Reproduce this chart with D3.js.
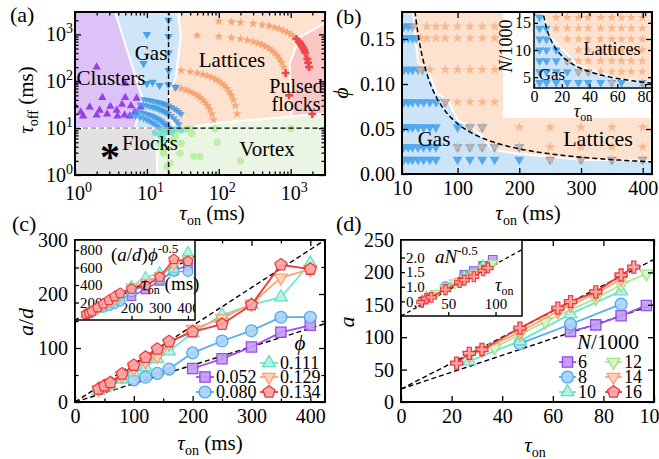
<!DOCTYPE html>
<html><head><meta charset="utf-8">
<script src="https://cdn.jsdelivr.net/npm/d3@7"></script>
<style>body{margin:0;background:#fff}svg{display:block}</style>
</head><body><svg id="c" width="659" height="459"></svg>
<script>
// ================= DATA =================
// ---- Panel (a): phase diagram, points are [tau_on, tau_off] in ms
const aClusters = [[1,95],[2,200],[1.2,22],[1.6,28],[2.2,24],[2,19],[2.4,45],[3.1,29],[3.8,24],[3.9,18],[4.9,19],[5,45],[5,90],[6.8,22],[7.2,43],[8.2,28],[1.3,18],[2.8,20],[6,30],[4.5,32],[5.8,18],[1,30]];
const aGas = [[10,1000],[20,2000],[20,900],[20,400],[9,240],[20,170],[12,96],[15,82],[20,85],[25,75],[10,90]];
const aGasArcs = [
  [[9,41],[10,40],[11,39],[12,38],[13,37],[14,36],[15,35],[16,34],[17,33],[18,32],[19,31],[20,30],[22,28],[24,26],[26,24],[28,22],[30,20]],
  [[8,32],[9,31],[10,30],[11,29],[12,28],[13,27],[14,26],[15,25],[16,24],[17,23],[18,22],[19,21],[20,20],[22,18],[24,16],[26,14],[28,12]],
  [[7,23],[8,22],[9,21],[10,20],[11,19],[12,18],[13,17],[14,16],[15,15],[16,14],[17,13],[18,12],[19,11],[20,10]],
  [[6,19],[7,18],[8,17],[9,16],[10,15],[11,14],[12,13],[13,12],[14,11],[15,10]]
];
const aFlockPts = [[13,8],[15,7],[17,6],[20,9],[22,8],[25,9.5],[30,9],[16,9],[18,8]];
const aVortex = [[15,4.7],[17,2.9],[21,1.8],[23,5.5],[29,2.9],[30,4.7],[42,7.7],[45,2.5],[55,2.45],[88,9.8],[95,5],[93,1],[200,2],[1000,9.8],[19,1.5],[25,7],[35,9.5],[40,9.8],[17,3.5]];
const aLatticeArcs = [
  [[100,1900],[150,1850],[200,1800],[300,1700],[400,1600],[500,1500],[600,1400],[700,1300],[800,1200],[900,1100],[1000,1000],[1100,900]],
  [[50,950],[100,900],[150,850],[200,800],[250,750],[300,700],[350,650],[400,600],[450,550],[500,500],[550,450],[600,400],[650,350],[700,300],[750,250],[800,200]],
  [[30,170],[40,160],[50,150],[60,140],[70,130],[80,120],[90,110],[100,100],[110,90],[120,80],[130,70],[140,60],[150,50],[160,40],[170,30],[180,20]],
  [[25,75],[30,70],[35,65],[40,60],[45,55],[50,50],[55,45],[60,40],[65,35],[70,30],[75,25],[80,20],[85,15]]
];
const aPulsed = [[1200,800],[1300,700],[1350,650],[1400,600],[1450,550],[1500,500],[1550,450],[1600,400],[1700,300],[1750,250],[1800,200],[850,150],[950,50],[2000,20]];
const regClusters = [[1,3000],[3.6,3000],[8.5,46],[6.8,10],[1,10]];
const regGas = [[3.6,3000],[27,3000],[29.6,954],[25,116],[20.9,64],[19,24],[24.5,10],[6.8,10],[8.5,46]];
const regLattices = [[27,3000],[3000,3000],[3000,1720],[1334,863],[970,240],[1030,18],[970,17.4],[83,12.6],[35.6,10],[24.5,10],[19,24],[20.9,64],[25,116],[29.6,954]];
const regPulsed = [[3000,1720],[1334,863],[970,240],[1030,18],[3000,20.6]];
const regVortex = [[3000,1],[3000,20.6],[970,17.4],[83,12.6],[35.6,10],[14,10],[13.5,5],[14,1]];
const regFlocks = [[1,1],[1,10],[14,10],[13.5,5],[14,1]];
const aTicks = [1,10,100,1000];
const aMinor = [2,3,4,5,6,7,8,9,20,30,40,50,60,70,80,90,200,300,400,500,600,700,800,900,2000,3000];

// ---- Panel (b): [tau_on, phi]
const bPhiRows = [0.164,0.151,0.116,0.080,0.052,0.030,0.016];
const bGasTau = [[13,20,27],[13,20,27,33],[13,20,27,36,43],[13,20,27,36,45,55,65,80],[13,20,27,36,45,55,65,100,120,140],[13,20,27,36,45,55,65,100,120,140,160,200],[13,20,27,36,45,55,65,100,120,140,160,200,250,300,350,400]];
const bStarTau = [[30,50,65,80,100,120,140,160],[40,50,65,80,100,120,140,160],[40,55,80,100,120,140,160],[80,100,120,140,160],[120,140,200,250,300,350,400],[100,120,140,160,200,250,300,350,400],[250,300,350,400]];
const regBGas = [[10,0.18],[28,0.18],[30,0.16],[36,0.123],[50,0.118],[66,0.09],[84,0.082],[100,0.060],[125,0.05],[140,0.0415],[156,0.0267],[203,0.022],[299,0.0156],[415,0.0148],[415,0],[10,0]];
const regBLat = [[28,0.18],[415,0.18],[415,0.0148],[299,0.0156],[203,0.022],[156,0.0267],[140,0.0415],[125,0.05],[100,0.060],[84,0.082],[66,0.09],[50,0.118],[36,0.123],[30,0.16]];
const bBoundaryCoef = 5.6;
const bXTicks = [10,100,200,300,400];
const bYTicks = [0,0.05,0.10,0.15];
const biRows = [16,14,12,10,8,6,4];
const biGasTau = [[4],[4,9],[4,9],[4,9,16],[4,9,16,24],[4,9,16,24,32,39],[4,9,16,24,32,39,48,56,63,78]];
const biStarTau = [[16,24,32,39,48,56,63,70,78],[16,24,32,39,48,56,63,70,78],[24,32,39,48,56,63,70,78],[32,39,48,56,63,70,78],[24,32,39,48,56,63,70,78],[32,39,48,56,63,70,78],[56,78]];
const regBiGas = [[0,17],[6.5,17],[11.5,12.4],[20.9,10],[31,7.25],[45.4,6],[62,4.5],[85,4.1],[85,3],[0,3]];
const regBiLat = [[6.5,17],[85,17],[85,4.1],[62,4.5],[45.4,6],[31,7.25],[20.9,10],[11.5,12.4]];
const biCurve = {A:49.7, b:0.573};

// ---- Panel (c)
const cPhi = ["0.052","0.080","0.111","0.129","0.134"];
const cPhiVal = [0.052,0.080,0.111,0.129,0.134];
const cTau = [
  [200,250,300,350,400],
  [100,120,140,160,200,250,300,350,400],
  [40,50,60,80,100,120,140,160,200,250,300,350,400],
  [40,50,60,80,100,120,140,160,200,250,300,350,400],
  [40,50,60,80,100,120,140,160,200,250,300,350,400]];
const cVal = [
  [62,80,102,129,142],
  [41,46,53,61,91,113,132,157,157],
  [21,26,31,42,55,65,80,94,128,161,180,194,257],
  [23,30,35,48,62,75,85,108,135,155,182,230,246],
  [24,30,36,52,68,83,98,112,130,144,180,254,246]];
const cGuides = [[[0,0],[425,300]],[[0,0],[425,145]]];
const ciGuide = [[0,0],[425,730]];

// ---- Panel (d)
const dN = ["6","8","10","12","14","16"];
const dNVal = [6,8,10,12,14,16];
const dTau = [
  [67,77,87,97],
  [47,67,87],
  [27,47,67,87],
  [37,47,57,77,87,97],
  [27,32,47,62,67,77,87],
  [22,27,32,47,62,67,77,87,92]];
const dVal = [
  [109,119,133,149],
  [90,120,151],
  [63,94,136,171],
  [84,104,124,160,181,198],
  [72,80,108,140,150,167,190],
  [60,75,81,114,145,155,170,196,208]];
const dGuides = [[[0,20],[100,220]],[[0,20],[100,150]]];
const diGuide = [[0,0],[128,2.27]];

// ================= DRAWING =================
const FONT = 'Liberation Serif, Liberation Sans, Arial, sans-serif';
const svg = d3.select("#c");
svg.append("rect").attr("width",659).attr("height",459).attr("fill","#fff");

const pentagon = {draw(ctx,size){const r=Math.sqrt(size/2.378);for(let i=0;i<5;i++){const a=-Math.PI/2+i*2*Math.PI/5;const x=r*Math.cos(a),y=r*Math.sin(a);i?ctx.lineTo(x,y):ctx.moveTo(x,y);}ctx.closePath();}};
const triDown = {draw(ctx,size){const s=Math.sqrt(size/0.433),h=s*0.866;ctx.moveTo(-s/2,-h/3);ctx.lineTo(s/2,-h/3);ctx.lineTo(0,2*h/3);ctx.closePath();}};
const triUp = {draw(ctx,size){const s=Math.sqrt(size/0.433),h=s*0.866;ctx.moveTo(-s/2,h/3);ctx.lineTo(s/2,h/3);ctx.lineTo(0,-2*h/3);ctx.closePath();}};

function txt(g,x,y,s,o={}){
  const t=g.append("text").attr("x",x).attr("y",y).attr("font-family",FONT).attr("font-size",o.fs||20).attr("fill","#000").attr("text-anchor",o.anchor||"start");
  if(o.rot) t.attr("transform",`rotate(${o.rot},${x},${y})`);
  if(o.italic) t.attr("font-style","italic");
  if(s!==null) t.text(s);
  return t;
}
function tsp(t,s,o={}){const p=t.append("tspan").text(s);if(o.fs)p.attr("font-size",o.fs);if(o.dy!==undefined)p.attr("dy",o.dy);if(o.italic)p.attr("font-style","italic");if(o.dx!==undefined)p.attr("dx",o.dx);return p;}

function axis(g,gen,scale,vals,len,tr,fmt,fs,pad){
  const a=gen(scale).tickValues(vals).tickSize(len).tickSizeOuter(0).tickPadding(pad||6).tickFormat(fmt||(()=>""));
  const s=g.append("g").attr("transform",tr).call(a);
  s.attr("font-family",FONT).attr("font-size",fs||20);
  s.select(".domain").remove();
  s.selectAll("line").attr("stroke","#000").attr("stroke-width",1.3);
  s.selectAll("text").attr("font-family",FONT).attr("font-size",fs||20).attr("fill","#000");
  return s;
}
function frame(g,xs,ys,sw){
  const [x0,x1]=xs.range(),[y0,y1]=ys.range();
  g.append("rect").attr("x",x0).attr("y",y1).attr("width",x1-x0).attr("height",y0-y1).attr("fill","none").attr("stroke","#000").attr("stroke-width",sw||2);
}
function mainAxes(g,xs,ys,o){
  const [x0,x1]=xs.range(),[y0,y1]=ys.range();
  const T=6,M=3.5;
  axis(g,d3.axisBottom,xs,o.xt,-T,`translate(0,${y0})`,o.xf,20,o.xpad||7);
  axis(g,d3.axisTop,xs,o.xt,-T,`translate(0,${y1})`);
  if(o.xm){axis(g,d3.axisBottom,xs,o.xm,-M,`translate(0,${y0})`);axis(g,d3.axisTop,xs,o.xm,-M,`translate(0,${y1})`);}
  axis(g,d3.axisLeft,ys,o.yt,-T,`translate(${x0},0)`,o.yf,20,o.ypad||7);
  axis(g,d3.axisRight,ys,o.yt,-T,`translate(${x1},0)`);
  if(o.ym){axis(g,d3.axisLeft,ys,o.ym,-M,`translate(${x0},0)`);axis(g,d3.axisRight,ys,o.ym,-M,`translate(${x1},0)`);}
  frame(g,xs,ys,2);
}
function poly(g,pts,xs,ys,fill,stroke){
  g.append("path").attr("d",d3.line().x(d=>xs(d[0])).y(d=>ys(d[1]))(pts)+"Z").attr("fill",fill).attr("stroke",stroke||"none").attr("stroke-width",1.8).attr("stroke-linejoin","round");
}
function marks(g,pts,xs,ys,type,size,fill,stroke,sw,op){
  g.selectAll(null).data(pts).enter().append("path")
   .attr("d",d3.symbol().type(type).size(size)())
   .attr("transform",d=>`translate(${xs(d[0])},${ys(d[1])})`)
   .attr("fill",fill).attr("stroke",stroke||"none").attr("stroke-width",sw||0).attr("opacity",op===undefined?1:op);
}
function dashed(g,pts,xs,ys,color,sw,da){
  g.append("path").attr("d",d3.line().x(d=>xs(d[0])).y(d=>ys(d[1]))(pts)).attr("fill","none").attr("stroke",color||"#000").attr("stroke-width",sw||1.5).attr("stroke-dasharray",da||"5,3");
}

const SER = [
  {line:"#9b4ff0",fill:"#c39df5",stroke:"#8c3ee6",type:d3.symbolSquare,size:105},
  {line:"#58acf0",fill:"#a9d3f7",stroke:"#4aa2ec",type:d3.symbolCircle,size:110},
  {line:"#6ee6cf",fill:"#b8f2e6",stroke:"#5adcc4",type:triUp,size:70},
  {line:"#ffa474",fill:"#ffd2b8",stroke:"#ff9a66",type:triDown,size:70},
  {line:"#f0383c",fill:"#f8a6a6",stroke:"#ec2a2e",type:pentagon,size:95}
];

// ---------- Panel (a) ----------
{
  const g=svg.append("g");
  const xs=d3.scaleLog().domain([1,3000]).range([75,325]);
  const ys=d3.scaleLog().domain([1,3000]).range([175,12]);
  g.append("clipPath").attr("id","clipA").append("rect").attr("x",75).attr("y",12).attr("width",250).attr("height",163);
  const pg=g.append("g").attr("clip-path","url(#clipA)");
  poly(pg,regLattices,xs,ys,"#fde2d0","#fff");
  poly(pg,regPulsed,xs,ys,"#fbc6c6","#fff");
  poly(pg,regVortex,xs,ys,"#eaf6e3","#fff");
  poly(pg,regFlocks,xs,ys,"#e2e2e2","#fff");
  poly(pg,regGas,xs,ys,"#cfe5f8","#fff");
  poly(pg,regClusters,xs,ys,"#dcc2f6","#fff");
  marks(pg,aVortex,xs,ys,d3.symbolCircle,42,"#b6ec9c","none",0,0.85);
  aLatticeArcs.forEach(a=>marks(pg,a,xs,ys,d3.symbolStar,26,"#f6a06c","none",0,0.9));
  marks(pg,aPulsed,xs,ys,d3.symbolCross,34,"#f0474a","none",0,1);
  marks(pg,aClusters,xs,ys,triUp,30,"#9a3ee8","none",0,1);
  marks(pg,aGas,xs,ys,triDown,30,"#45a2ee","none",0,1);
  aGasArcs.forEach(a=>marks(pg,a,xs,ys,triDown,22,"#3f99e6","none",0,0.8));
  marks(pg,aFlockPts,xs,ys,d3.symbolCircle,30,"#62dcc8","none",0,0.8);
  dashed(g,[[20,1],[20,3000]],xs,ys,"#000",1.4,"5,3");
  dashed(g,[[1,10],[20,10]],xs,ys,"#aaa",1.6,"5,3");
  dashed(g,[[20,10],[3000,10]],xs,ys,"#000",1.4,"5,3");
  mainAxes(g,xs,ys,{xt:aTicks,xm:aMinor,yt:aTicks,ym:aMinor.filter(v=>v<3000)});
  aTicks.forEach((v,i)=>{const t=txt(g,xs(v)-10,200,null,{fs:20});tsp(t,"10");tsp(t,String(i),{fs:14,dy:-8});});
  aTicks.forEach((v,i)=>{const t=txt(g,73,ys(v)+7,null,{fs:20,anchor:"end"});tsp(t,"10");tsp(t,String(i),{fs:14,dy:-8});});
  txt(g,111,85,"Clusters",{fs:21,anchor:"middle"});
  txt(g,151,60,"Gas",{fs:21,anchor:"middle"});
  txt(g,232,67,"Lattices",{fs:21,anchor:"middle"});
  txt(g,296,93,"Pulsed",{fs:20,anchor:"middle"});
  txt(g,296,111,"flocks",{fs:20,anchor:"middle"});
  txt(g,150,150,"Flocks",{fs:21,anchor:"middle"});
  txt(g,267,156,"Vortex",{fs:21,anchor:"middle"});
  txt(g,110,170,"*",{fs:40,anchor:"middle"}).attr("font-weight","bold");
  let t=txt(g,212,220,null,{fs:21,anchor:"middle"});tsp(t,"τ",{italic:true});tsp(t,"on",{fs:14,dy:5});tsp(t," (ms)",{dy:-5});
  t=txt(g,33,100,null,{fs:21,anchor:"middle",rot:-90});tsp(t,"τ",{italic:true});tsp(t,"off",{fs:14,dy:5});tsp(t," (ms)",{dy:-5});
  txt(g,10,22,"(a)",{fs:22});
}

// ---------- Panel (b) ----------
{
  const g=svg.append("g");
  const xs=d3.scaleLinear().domain([10,415]).range([402,652]);
  const ys=d3.scaleLinear().domain([0,0.18]).range([174,12]);
  g.append("clipPath").attr("id","clipB").append("rect").attr("x",402).attr("y",12).attr("width",250).attr("height",162);
  const pg=g.append("g").attr("clip-path","url(#clipB)");
  poly(pg,regBLat,xs,ys,"#fde2d0","#fff");
  poly(pg,regBGas,xs,ys,"#cce4f8","#fff");
  const gasPts=[],starPts=[];
  bPhiRows.forEach((p,i)=>{bGasTau[i].forEach(t=>gasPts.push([t,p]));bStarTau[i].forEach(t=>starPts.push([t,p]));});
  marks(pg,gasPts,xs,ys,triDown,42,"#4ea6ee","none",0,0.95);
  marks(pg,starPts,xs,ys,d3.symbolStar,34,"#f7ae80","none",0,0.8);
  const curve=d3.range(31,417,2).map(t=>[t,bBoundaryCoef/t]);
  dashed(pg,curve,xs,ys,"#000",1.5,"5,3");
  g.append("rect").attr("x",503).attr("y",13).attr("width",148).attr("height",105).attr("fill","#fff");
  const xi=d3.scaleLinear().domain([0,85]).range([534,652]);
  const yi=d3.scaleLinear().domain([3,17]).range([88,12]);
  g.append("clipPath").attr("id","clipBi").append("rect").attr("x",534).attr("y",12).attr("width",118).attr("height",76);
  const ig=g.append("g").attr("clip-path","url(#clipBi)");
  poly(ig,regBiLat,xi,yi,"#fde2d0","#fff");
  poly(ig,regBiGas,xi,yi,"#cce4f8","#fff");
  const gi=[],si=[];
  biRows.forEach((n,i)=>{biGasTau[i].forEach(t=>gi.push([t,n]));biStarTau[i].forEach(t=>si.push([t,n]));});
  marks(ig,gi,xi,yi,triDown,34,"#4ea6ee","none",0,0.95);
  marks(ig,si,xi,yi,d3.symbolStar,28,"#f7ae80","none",0,0.85);
  dashed(ig,d3.range(6,86,1).map(t=>[t,biCurve.A*Math.pow(t,-biCurve.b)]),xi,yi,"#000",1.5,"5,3");
  axis(g,d3.axisBottom,xi,[0,20,40,60,80],-4,`translate(0,88)`,d3.format("d"),16,3);
  axis(g,d3.axisLeft,yi,[5,10,15],-4,`translate(534,0)`,d3.format("d"),16,3);
  axis(g,d3.axisTop,xi,[0,20,40,60,80],-4,`translate(0,12)`);
  axis(g,d3.axisRight,yi,[5,10,15],-4,`translate(652,0)`);
  frame(g,xi,yi,1.5);
  txt(g,612,55,"Lattices",{fs:18,anchor:"middle"});
  txt(g,552,80,"Gas",{fs:17,anchor:"middle"});
  let t=txt(g,583,117,null,{fs:18,anchor:"middle"});tsp(t,"τ",{italic:true});tsp(t,"on",{fs:12,dy:4});
  t=txt(g,512,46,null,{fs:18,anchor:"middle",rot:-90});tsp(t,"N",{italic:true});tsp(t,"/1000");
  mainAxes(g,xs,ys,{xt:bXTicks,yt:bYTicks,xf:d3.format("d"),yf:d3.format(".2f")});
  txt(g,434,146,"Gas",{fs:21,anchor:"middle"});
  txt(g,598,146,"Lattices",{fs:22,anchor:"middle"});
  t=txt(g,528,220,null,{fs:21,anchor:"middle"});tsp(t,"τ",{italic:true});tsp(t,"on",{fs:14,dy:5});tsp(t," (ms)",{dy:-5});
  txt(g,348,93,"ϕ",{fs:22,anchor:"middle",rot:-90,italic:true});
  txt(g,336,24,"(b)",{fs:22});
}

// ---------- Panel (c) ----------
{
  const g=svg.append("g");
  const xs=d3.scaleLinear().domain([0,425]).range([75,325]);
  const ys=d3.scaleLinear().domain([0,300]).range([402,240]);
  g.append("clipPath").attr("id","clipC").append("rect").attr("x",75).attr("y",240).attr("width",250).attr("height",162);
  const pg=g.append("g").attr("clip-path","url(#clipC)");
  cGuides.forEach(l=>dashed(pg,l,xs,ys,"#000",1.4,"5,3"));
  const ln=d3.line().x(d=>xs(d[0])).y(d=>ys(d[1]));
  cPhi.forEach((p,i)=>{
    const pts=cTau[i].map((t,j)=>[t,cVal[i][j]]);
    pg.append("path").attr("d",ln(pts)).attr("fill","none").attr("stroke",SER[i].line).attr("stroke-width",1.8);
    marks(pg,pts,xs,ys,SER[i].type,SER[i].size,SER[i].fill,SER[i].stroke,1.3,0.9);
  });
  mainAxes(g,xs,ys,{xt:[0,100,200,300,400],xm:[50,150,250,350],yt:[0,100,200,300],ym:[50,150,250],xf:d3.format("d"),yf:d3.format("d")});
  const xi=d3.scaleLinear().domain([0,425]).range([75,195]);
  const yi=d3.scaleLinear().domain([0,915]).range([320,240]);
  g.append("rect").attr("x",75).attr("y",240).attr("width",120).attr("height",80).attr("fill","#fff");
  g.append("clipPath").attr("id","clipCi").append("rect").attr("x",75).attr("y",240).attr("width",120).attr("height",80);
  const ig=g.append("g").attr("clip-path","url(#clipCi)");
  axis(ig,d3.axisRight,yi,[200,400,600,800],4,`translate(75,0)`,d3.format("d"),15,1);
  axis(ig,d3.axisTop,xi,[200,300,400],4,`translate(0,320)`,d3.format("d"),15,3);
  dashed(ig,ciGuide,xi,yi,"#000",1.3,"4,3");
  cPhi.forEach((p,i)=>{
    const pts=cTau[i].map((t,j)=>[t,cVal[i][j]/Math.sqrt(cPhiVal[i])]);
    ig.append("path").attr("d",d3.line().x(d=>xi(d[0])).y(d=>yi(d[1]))(pts)).attr("fill","none").attr("stroke",SER[i].line).attr("stroke-width",1.5);
    marks(ig,pts,xi,yi,SER[i].type,SER[i].size*0.7,SER[i].fill,SER[i].stroke,1.1,0.9);
  });
  frame(g,xi,yi,1.5);
  let t=txt(g,111,261,null,{fs:19});tsp(t,"(");tsp(t,"a",{italic:true});tsp(t,"/");tsp(t,"d",{italic:true});tsp(t,")");tsp(t,"ϕ",{italic:true});tsp(t,"-0.5",{fs:13,dy:-8});
  t=txt(g,141,290,null,{fs:19});tsp(t,"τ",{italic:true});tsp(t,"on",{fs:12,dy:4});tsp(t," (ms)",{dy:-4});
  txt(g,300,350,"ϕ",{fs:21,anchor:"middle",italic:true});
  const leg=[[0,198,377],[1,198,392],[2,262,363],[3,262,377],[4,262,392]];
  leg.forEach(([i,x,y])=>{
    g.append("line").attr("x1",x-2).attr("x2",x+16).attr("y1",y).attr("y2",y).attr("stroke",SER[i].line).attr("stroke-width",1.8);
    marks(g,[[0,0]],()=>x+7,()=>y,SER[i].type,SER[i].size,SER[i].fill,SER[i].stroke,1.3,0.95);
    txt(g,x+18,y+6,cPhi[i],{fs:18});
  });
  t=txt(g,210,450,null,{fs:21,anchor:"middle"});tsp(t,"τ",{italic:true});tsp(t,"on",{fs:14,dy:5});tsp(t," (ms)",{dy:-5});
  t=txt(g,33,322,null,{fs:22,anchor:"middle",rot:-90});tsp(t,"a",{italic:true});tsp(t,"/");tsp(t,"d",{italic:true});
  txt(g,12,231,"(c)",{fs:22});
}

// ---------- Panel (d) ----------
{
  const g=svg.append("g");
  const xs=d3.scaleLinear().domain([0,100]).range([401,654]);
  const ys=d3.scaleLinear().domain([0,250]).range([402,240]);
  g.append("clipPath").attr("id","clipD").append("rect").attr("x",401).attr("y",240).attr("width",253).attr("height",162);
  const pg=g.append("g").attr("clip-path","url(#clipD)");
  dGuides.forEach(l=>dashed(pg,l,xs,ys,"#000",1.4,"5,3"));
  const SD=[SER[0],SER[1],SER[2],{line:"#aee894",fill:"#d6f5c8",stroke:"#9de07f",type:triDown,size:70},SER[3],{line:"#f0383c",fill:"#f8a6a6",stroke:"#ec2a2e",type:d3.symbolCross,size:80}];
  const ln=d3.line().x(d=>xs(d[0])).y(d=>ys(d[1]));
  dN.forEach((n,i)=>{
    const pts=dTau[i].map((t,j)=>[t,dVal[i][j]]);
    pg.append("path").attr("d",ln(pts)).attr("fill","none").attr("stroke",SD[i].line).attr("stroke-width",1.8);
    marks(pg,pts,xs,ys,SD[i].type,SD[i].size,SD[i].fill,SD[i].stroke,1.3,0.9);
  });
  mainAxes(g,xs,ys,{xt:[0,20,40,60,80,100],yt:[0,50,100,150,200,250],xf:d3.format("d"),yf:d3.format("d")});
  const xi=d3.scaleLinear().domain([0,128]).range([401,522]);
  const yi=d3.scaleLinear().domain([0,2.6]).range([316,240]);
  g.append("rect").attr("x",401).attr("y",240).attr("width",121).attr("height",76).attr("fill","#fff");
  g.append("clipPath").attr("id","clipDi").append("rect").attr("x",401).attr("y",240).attr("width",121).attr("height",76);
  const ig=g.append("g").attr("clip-path","url(#clipDi)");
  axis(ig,d3.axisRight,yi,[0.5,1.0,1.5,2.0],4,`translate(401,0)`,d3.format(".1f"),15,1);
  axis(ig,d3.axisTop,xi,[50,100],4,`translate(0,316)`,d3.format("d"),15,3);
  dashed(ig,diGuide,xi,yi,"#000",1.3,"4,3");
  dN.forEach((n,i)=>{
    const pts=dTau[i].map((t,j)=>[t,dVal[i][j]/Math.sqrt(dNVal[i]*1000)]);
    ig.append("path").attr("d",d3.line().x(d=>xi(d[0])).y(d=>yi(d[1]))(pts)).attr("fill","none").attr("stroke",SD[i].line).attr("stroke-width",1.5);
    marks(ig,pts,xi,yi,SD[i].type,SD[i].size*0.7,SD[i].fill,SD[i].stroke,1.1,0.9);
  });
  frame(g,xi,yi,1.5);
  let t=txt(g,435,263,null,{fs:19});tsp(t,"aN",{italic:true});tsp(t,"-0.5",{fs:13,dy:-8});
  t=txt(g,495,291,null,{fs:18});tsp(t,"τ",{italic:true});tsp(t,"on",{fs:12,dy:4});
  t=txt(g,608,349,null,{fs:21,anchor:"middle"});tsp(t,"N",{italic:true});tsp(t,"/1000");
  const leg=[[0,561,362],[1,561,377],[2,561,392],[3,607,362],[4,607,377],[5,607,392]];
  leg.forEach(([i,x,y])=>{
    g.append("line").attr("x1",x-2).attr("x2",x+15).attr("y1",y).attr("y2",y).attr("stroke",SD[i].line).attr("stroke-width",1.8);
    marks(g,[[0,0]],()=>x+6.5,()=>y,i===5?pentagon:SD[i].type,i===5?95:SD[i].size,SD[i].fill,SD[i].stroke,1.3,0.95);
    txt(g,x+17,y+6,dN[i],{fs:18});
  });
  t=txt(g,535,452,null,{fs:21,anchor:"middle"});tsp(t,"τ",{italic:true});tsp(t,"on",{fs:14,dy:5});
  txt(g,354,322,"a",{fs:22,anchor:"middle",rot:-90,italic:true});
  txt(g,336,231,"(d)",{fs:22});
}
</script></body></html>
